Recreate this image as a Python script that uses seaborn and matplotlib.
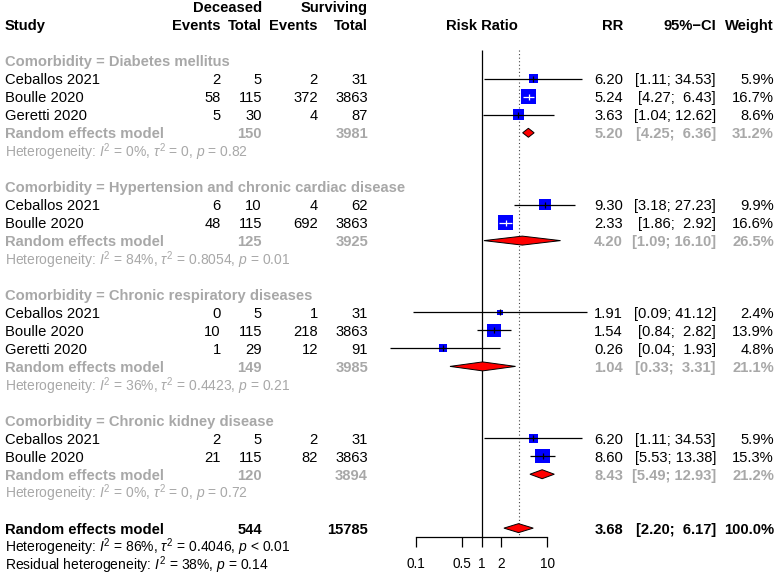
import numpy as np
import pandas as pd
import matplotlib
matplotlib.use("Agg")
import matplotlib.pyplot as plt
import seaborn as sns

# ---------------- data ----------------
groups = ["Diabetes mellitus", "Hypertension and chronic cardiac disease",
          "Chronic respiratory diseases", "Chronic kidney disease"]
study = ["Ceballos 2021", "Boulle 2020", "Geretti 2020",
         "Ceballos 2021", "Boulle 2020",
         "Ceballos 2021", "Boulle 2020", "Geretti 2020",
         "Ceballos 2021", "Boulle 2020"]
study_group = [0, 0, 0, 1, 1, 2, 2, 2, 3, 3]
dec_events = [2, 58, 5, 6, 48, 0, 10, 1, 2, 21]
dec_total = [5, 115, 30, 10, 115, 5, 115, 29, 5, 115]
surv_events = [2, 372, 4, 4, 692, 1, 218, 12, 2, 82]
surv_total = [31, 3863, 87, 62, 3863, 31, 3863, 91, 31, 3863]
rr = [6.20, 5.24, 3.63, 9.30, 2.33, 1.91, 1.54, 0.26, 6.20, 8.60]
ci_low = [1.11, 4.27, 1.04, 3.18, 1.86, 0.09, 0.84, 0.04, 1.11, 5.53]
ci_high = [34.53, 6.43, 12.62, 27.23, 2.92, 41.12, 2.82, 1.93, 34.53, 13.38]
weight = [5.9, 16.7, 8.6, 9.9, 16.6, 2.4, 13.9, 4.8, 5.9, 15.3]

sub_rr = [5.20, 4.20, 1.04, 8.43]
sub_low = [4.25, 1.09, 0.33, 5.49]
sub_high = [6.36, 16.10, 3.31, 12.93]
sub_weight = [31.2, 26.5, 21.1, 21.2]
sub_dec_total = [150, 125, 149, 120]
sub_surv_total = [3981, 3925, 3985, 3894]
sub_i2 = ["0", "84", "36", "0"]
sub_tau2 = ["0", "0.8054", "0.4423", "0"]
sub_p = ["0.82", "0.01", "0.21", "0.72"]

overall_rr, overall_low, overall_high, overall_weight = 3.68, 2.20, 6.17, 100.0
overall_dec_total, overall_surv_total = 544, 15785
overall_het = ("86", "0.4046", "< 0.01")
resid_het = ("38", "0.14")
xticks = [0.1, 0.5, 1, 2, 10]
xtick_labels = ["0.1", "0.5", "1", "2", "10"]

# ---------------- layout ----------------
W, H = 779, 579
ROW0, ROWH = 7.0, 17.97
PX_PER_DEC, X_ONE = 65.5, 481.5
GREY = "#A8A8A8"
FS = 10.6
FS_HET = 10.0

sns.set_style("white")
plt.rcParams["font.family"] = ["Liberation Sans", "DejaVu Sans"]
plt.rcParams["mathtext.fontset"] = "custom"
plt.rcParams["mathtext.rm"] = "Liberation Sans"
plt.rcParams["mathtext.it"] = "Liberation Sans:italic"
plt.rcParams["mathtext.bf"] = "Liberation Sans:bold"

fig = plt.figure(figsize=(W / 100, H / 100), dpi=100)
fig.patch.set_facecolor("white")

def row_of_px(p):
    return (p - ROW0) / ROWH

# text axes in pixel x, row y
tax = fig.add_axes([0, 0, 1, 1])
tax.set_xlim(0, W)
tax.set_ylim(row_of_px(H), row_of_px(0))
tax.axis("off")

# forest axes
fl, fr, fb = 370, 600, 537
fax = fig.add_axes([fl / W, (H - fb) / H, (fr - fl) / W, fb / H])
fax.patch.set_alpha(0)
fax.set_xscale("log")
fax.set_xlim(10 ** ((fl - X_ONE) / PX_PER_DEC), 10 ** ((fr - X_ONE) / PX_PER_DEC))
fax.set_ylim(row_of_px(fb), row_of_px(0))

# column positions (right edges)
X_STUDY = 5
X_DE, X_DT, X_SE, X_ST = 221, 262, 318, 368
X_RR, X_CI, X_W = 623, 716, 774

def txt(x, row, s, ha="right", color="black", bold=False, size=FS):
    tax.text(x, row + 0.08, s, ha=ha, va="center", color=color,
             fontweight="bold" if bold else "normal", fontsize=size)

# headers
txt(X_DT, 0, "Deceased", bold=True)
txt(X_ST, 0, "Surviving", bold=True)
txt(X_STUDY, 1, "Study", ha="left", bold=True)
for x, s in [(X_DE, "Events"), (X_DT, "Total"), (X_SE, "Events"), (X_ST, "Total"),
             (X_RR, "RR"), (X_CI, "95%\u2212CI"), (X_W, "Weight")]:
    txt(x, 1, s, bold=True)
txt(X_ONE, 1, "Risk Ratio", ha="center", bold=True)

def ci_str(lo, hi):
    return f"[{lo:.2f}; {hi:5.2f}]"

# build row indices
study_rows, sub_rows, het_rows, head_rows = [], [], [], []
r = 3
for g in range(len(groups)):
    head_rows.append(r)
    r += 1
    for i in range(len(study)):
        if study_group[i] == g:
            study_rows.append(r)
            r += 1
    sub_rows.append(r)
    het_rows.append(r + 1)
    r += 3
overall_row = r
df = pd.DataFrame({"row": study_rows, "rr": rr, "lo": ci_low, "hi": ci_high, "w": weight})

for g, name in enumerate(groups):
    txt(X_STUDY, head_rows[g], f"Comorbidity = {name}", ha="left", color=GREY, bold=True)
    rw = sub_rows[g]
    txt(X_STUDY, rw, "Random effects model", ha="left", color=GREY, bold=True)
    txt(X_DT, rw, f"{sub_dec_total[g]}", color=GREY, bold=True)
    txt(X_ST, rw, f"{sub_surv_total[g]}", color=GREY, bold=True)
    txt(X_RR, rw, f"{sub_rr[g]:.2f}", color=GREY, bold=True)
    txt(X_CI, rw, ci_str(sub_low[g], sub_high[g]), color=GREY, bold=True)
    txt(X_W, rw, f"{sub_weight[g]:.1f}%", color=GREY, bold=True)
    txt(X_STUDY, het_rows[g],
        rf"Heterogeneity: $\mathit{{I}}^2$ = {sub_i2[g]}%, $\tau^2$ = {sub_tau2[g]}, $\mathit{{p}}$ = {sub_p[g]}",
        ha="left", color=GREY, size=FS_HET)

for i in range(len(study)):
    rw = study_rows[i]
    txt(X_STUDY, rw, study[i], ha="left")
    txt(X_DE, rw, f"{dec_events[i]}")
    txt(X_DT, rw, f"{dec_total[i]}")
    txt(X_SE, rw, f"{surv_events[i]}")
    txt(X_ST, rw, f"{surv_total[i]}")
    txt(X_RR, rw, f"{rr[i]:.2f}")
    txt(X_CI, rw, ci_str(ci_low[i], ci_high[i]))
    txt(X_W, rw, f"{weight[i]:.1f}%")

txt(X_STUDY, overall_row, "Random effects model", ha="left", bold=True)
txt(X_DT, overall_row, f"{overall_dec_total}", bold=True)
txt(X_ST, overall_row, f"{overall_surv_total}", bold=True)
txt(X_RR, overall_row, f"{overall_rr:.2f}", bold=True)
txt(X_CI, overall_row, ci_str(overall_low, overall_high), bold=True)
txt(X_W, overall_row, f"{overall_weight:.1f}%", bold=True)
txt(X_STUDY, overall_row + 1,
    rf"Heterogeneity: $\mathit{{I}}^2$ = {overall_het[0]}%, $\tau^2$ = {overall_het[1]}, $\mathit{{p}}$ {overall_het[2]}",
    ha="left", size=FS_HET)
txt(X_STUDY, overall_row + 2,
    rf"Residual heterogeneity: $\mathit{{I}}^2$ = {resid_het[0]}%, $\mathit{{p}}$ = {resid_het[1]}",
    ha="left", size=FS_HET)

# ---------------- forest ----------------
top_row = row_of_px(50)
bot_row = row_of_px(fb)
fax.vlines(1, top_row, bot_row, color="black", lw=0.9, zorder=1)
fax.vlines(overall_rr, top_row, bot_row, color="#444444", lw=0.8,
           linestyles=(0, (1, 2.2)), zorder=1)

# squares: area proportional to weight
sns.scatterplot(data=df, x="rr", y="row", size="w", sizes=(0, 710), size_norm=(0, 100),
                marker="s", color="#0000FF", edgecolor="none", linewidth=0,
                legend=False, ax=fax, zorder=3)

# CI lines (white when completely inside the square)
for i in range(len(study)):
    side_px = 3.7 * np.sqrt(weight[i])
    ci_px = (np.log10(ci_high[i]) - np.log10(ci_low[i])) * PX_PER_DEC
    col = "white" if ci_px < side_px else "black"
    fax.hlines(study_rows[i], ci_low[i], ci_high[i], color=col, lw=0.9, zorder=4)
    fax.plot([rr[i]], [study_rows[i]], marker="|", ms=4, color=col, mew=0.9, zorder=4)

# diamonds
def diamond(row, est, lo, hi, h=0.25):
    fax.fill([lo, est, hi, est], [row, row - h, row, row + h],
             facecolor="#FF0000", edgecolor="black", lw=0.7, zorder=3)

for g in range(len(groups)):
    diamond(sub_rows[g], sub_rr[g], sub_low[g], sub_high[g])
diamond(overall_row, overall_rr, overall_low, overall_high)

# axis
for s in ["top", "left", "right"]:
    fax.spines[s].set_visible(False)
fax.spines["bottom"].set_bounds(min(xticks), max(xticks))
fax.spines["bottom"].set_linewidth(0.9)
fax.spines["bottom"].set_color("black")
fax.set_xticks(xticks)
fax.set_xticklabels(xtick_labels)
fax.xaxis.set_minor_locator(matplotlib.ticker.NullLocator())
fax.tick_params(axis="x", direction="out", length=7.2, width=0.9, pad=7.5,
                labelsize=9.8, colors="black", bottom=True)
fax.set_yticks([])
fax.set_xlabel("")
fax.set_ylabel("")

fig.savefig("out.png", dpi=100, facecolor="white")
